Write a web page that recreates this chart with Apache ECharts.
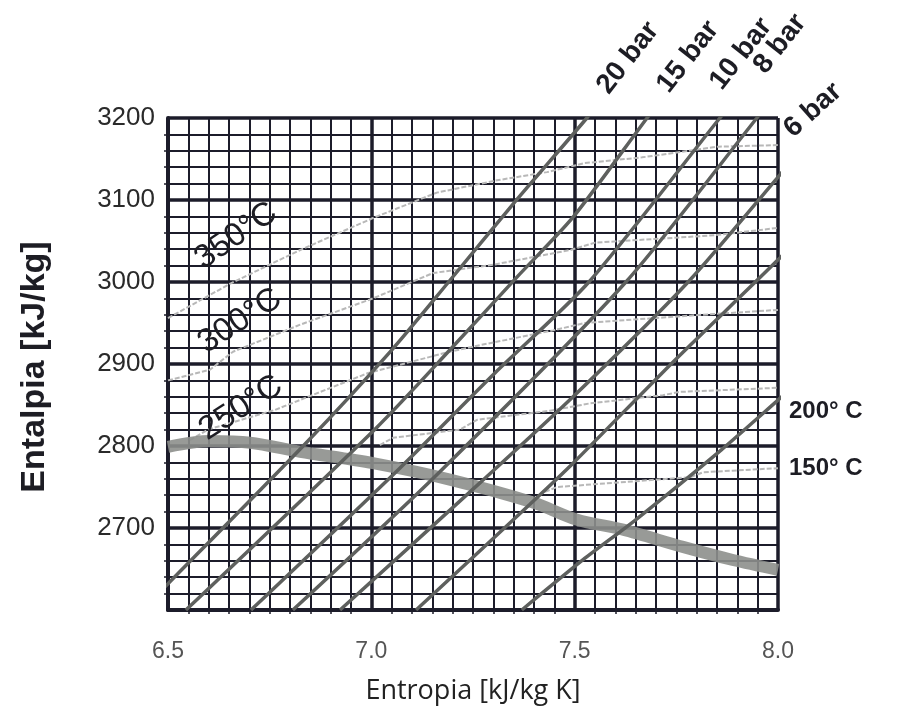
<!DOCTYPE html>
<html>
<head>
<meta charset="utf-8">
<script src="https://cdn.jsdelivr.net/npm/echarts@6/dist/echarts.min.js"></script>
<style>
  html, body { margin: 0; padding: 0; background: #fff; }
  #chart { width: 909px; height: 710px; }
</style>
</head>
<body>
<div id="chart"></div>
<script>
// isobaras, puntos [s, h]
const p20 = [[6.44, 2602], [6.50, 2632], [6.84, 2804], [7.05, 2917], [7.19, 3000], [7.35, 3096], [7.53, 3200], [7.56, 3220]]
const p15 = [[6.544, 2600], [7.014, 2823], [7.193, 2917], [7.358, 3006], [7.496, 3079], [7.678, 3200], [7.71, 3220]]
const p10 = [[6.704, 2600], [7.07, 2773], [7.304, 2889], [7.535, 3000], [7.857, 3200], [7.89, 3220]]
const p8 = [[6.807, 2600], [7.161, 2765], [7.626, 3000], [7.948, 3200], [7.98, 3220]]
const p6 = [[6.923, 2600], [7.267, 2755], [7.496, 2860], [7.779, 3000], [8.0, 3128], [8.05, 3158]]
const pB = [[7.11, 2600], [7.39, 2729], [7.496, 2779], [7.747, 2905], [8.0, 3027], [8.05, 3055]]
const pA = [[7.37, 2600], [7.52, 2661], [7.65, 2710], [7.86, 2795], [8.0, 2856], [8.05, 2878]]
const isobars = [p20, p15, p10, p8, p6, pB, pA]

// isotermas
const t350 = [[6.5, 2956], [6.657, 2999], [6.825, 3039], [7.004, 3078], [7.161, 3109], [7.309, 3124], [7.432, 3134], [7.525, 3145], [7.666, 3152], [7.852, 3165], [8.0, 3167]]
const t300 = [[6.5, 2880], [6.603, 2893], [6.66, 2915], [6.825, 2948], [7.004, 2980], [7.152, 3011], [7.299, 3021], [7.489, 3039], [7.55, 3048], [7.845, 3057], [8.0, 3066]]
const t250 = [[6.554, 2807], [6.598, 2820], [6.763, 2844], [6.992, 2889], [7.193, 2915], [7.267, 2923], [7.447, 2941], [7.525, 2950], [7.813, 2960], [8.0, 2966]]
const t200 = [[7.021, 2801], [7.053, 2810], [7.218, 2820], [7.26, 2832], [7.439, 2843], [7.538, 2852], [7.717, 2862], [7.759, 2866], [8.0, 2871]]
const t150 = [[7.427, 2744], [7.457, 2750], [7.784, 2762], [7.816, 2768], [8.0, 2773]]
const isotherms = [t350, t300, t250, t200, t150]

// curva de vapor saturado
const sat = [[6.5, 2799], [6.603, 2806], [6.702, 2804], [6.825, 2793], [7.004, 2779], [7.193, 2759], [7.398, 2731], [7.506, 2710], [7.619, 2698], [7.766, 2677], [7.889, 2661], [8.0, 2649]]

const xTicks = [6.5, 7.0, 7.5, 8.0]
const yTicks = [2700, 2800, 2900, 3000, 3100, 3200]

const gridColor = '#1c1c2a'
const chart = echarts.init(document.getElementById('chart'))

const series = []
isotherms.forEach(d => {
  series.push({
    type: 'line', data: d, symbol: 'none', silent: true, z: 3,
    lineStyle: { color: '#b8b8b8', width: 2, type: [5, 2] }
  })
})
series.push({
  type: 'line', data: sat, symbol: 'none', smooth: 0.3, silent: true, z: 4,
  lineStyle: { color: '#8d8f8c', width: 12, opacity: 0.9 }
})
isobars.forEach(d => {
  series.push({
    type: 'line', data: d, symbol: 'none', smooth: 0.25, silent: true, z: 5,
    lineStyle: { color: '#5e605e', width: 3.5 }
  })
})

const labelFont = 'bold 28px "Liberation Sans", Arial, sans-serif'
const tempFont = '33px "Liberation Sans", Arial, sans-serif'
const sideFont = 'bold 24px "Liberation Sans", Arial, sans-serif'
const txt = (text, x, y, deg, font, align) => ({
  type: 'text', x, y, rotation: deg * Math.PI / 180, z: 10,
  style: { text, font, fill: '#1d1d24', align: align || 'center', verticalAlign: 'middle' }
})

const option = {
  animation: false,
  backgroundColor: '#fff',
  grid: { left: 168, top: 118, width: 610, height: 492, outerBoundsMode: 'none', containLabel: false },
  xAxis: {
    type: 'value', min: 6.5, max: 8.0, interval: 0.5,
    name: 'Entropia [kJ/kg K]', nameLocation: 'middle', nameGap: 68,
    nameTextStyle: { fontSize: 27, color: '#222', fontFamily: '"Open Sans", sans-serif' },
    axisLine: { show: true, lineStyle: { color: gridColor, width: 4 } },
    axisTick: { show: false },
    minorTick: { show: true, splitNumber: 10, length: 4, lineStyle: { color: gridColor, width: 1.5 } },
    axisLabel: {
      margin: 30, fontSize: 23, color: '#555', fontFamily: '"Liberation Sans", Arial',
      formatter: v => xTicks.includes(+v.toFixed(1)) ? v.toFixed(1) : ''
    },
    splitLine: { show: true, lineStyle: { color: gridColor, width: 3.5 } },
    minorSplitLine: { show: true, lineStyle: { color: gridColor, width: 2 } }
  },
  yAxis: {
    type: 'value', min: 2600, max: 3200, interval: 100,
    axisLine: { show: true, lineStyle: { color: gridColor, width: 4 } },
    axisTick: { show: false },
    minorTick: { show: true, splitNumber: 5, length: 4, lineStyle: { color: gridColor, width: 1.5 } },
    axisLabel: {
      margin: 13, fontSize: 26, color: '#2a2a2a', fontFamily: '"Liberation Sans", Arial',
      formatter: v => yTicks.includes(v) ? String(v) : ''
    },
    splitLine: { show: true, lineStyle: { color: gridColor, width: 3.5 } },
    minorSplitLine: { show: true, lineStyle: { color: gridColor, width: 2 } }
  },
  series,
  graphic: [
    txt('Entalpia [kJ/kg]', 35, 367, 90, 'bold 34px "Liberation Sans", Arial, sans-serif'),
    txt('350°C', 236, 236, 35, tempFont),
    txt('300°C', 240, 321, 33, tempFont),
    txt('250°C', 241, 408, 33, tempFont),
    txt('20 bar', 628, 58, 52, labelFont),
    txt('15 bar', 688, 57, 52, labelFont),
    txt('10 bar', 741, 54, 52, labelFont),
    txt('8 bar', 780, 44, 52, labelFont),
    txt('6 bar', 813, 110, 42, labelFont),
    txt('200° C', 789, 411, 0, sideFont, 'left'),
    txt('150° C', 789, 468, 0, sideFont, 'left')
  ]
}
chart.setOption(option)
</script>
</body>
</html>
